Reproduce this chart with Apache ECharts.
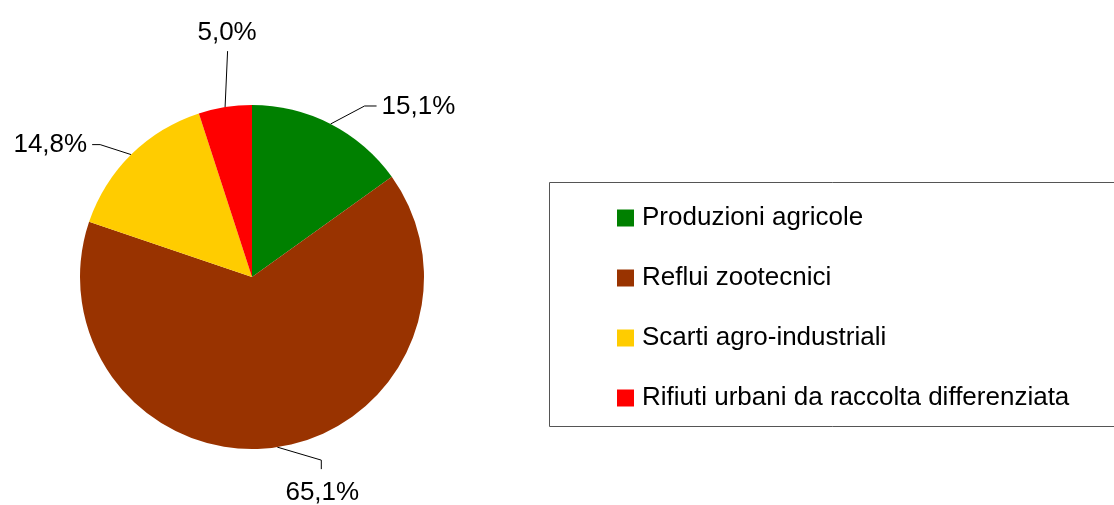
<!DOCTYPE html>
<html>
<head>
<meta charset="utf-8">
<script src="https://cdn.jsdelivr.net/npm/echarts@6/dist/echarts.min.js"></script>
<style>
  html, body { margin: 0; padding: 0; background: #ffffff; }
  #chart { width: 1114px; height: 505px; }
</style>
</head>
<body>
<div id="chart"></div>
<script>
// Biomass sources: share of total (%)
const categories = [
  'Produzioni agricole',
  'Reflui zootecnici',
  'Scarti agro-industriali',
  'Rifiuti urbani da raccolta differenziata'
];
const shares = [15.1, 65.1, 14.8, 5.0];
const colors = ['#008000', '#993300', '#ffcc00', '#ff0000'];

const FONT = '"Liberation Sans", Arial, sans-serif';
const FONT_SIZE = 26;
const CENTER = [252, 277];
const RADIUS = 172;

// Leader line shape for each slice, as offsets from the point where the line leaves the arc
const leaders = [
  { pts: [[34, -18], [46, -18]], label: [51, -17], align: 'left' },
  { pts: [[44, 13], [44, 22]], label: [45, 46], align: 'center' },
  { pts: [[-31, -10], [-39, -10]], label: [-44, -10], align: 'right' },
  { pts: [[2.5, -56]], label: [2, -74], align: 'center' }
];

function arcPoint(idx) {
  // fallback: mid-angle of the slice on the outer radius, clockwise from 12 o'clock
  const total = shares.reduce((a, b) => a + b, 0);
  let start = 0;
  for (let i = 0; i < idx; i++) start += shares[i];
  const mid = (start + shares[idx] / 2) / total * 2 * Math.PI;
  return [CENTER[0] + RADIUS * Math.sin(mid), CENTER[1] - RADIUS * Math.cos(mid)];
}

const chart = echarts.init(document.getElementById('chart'), null, { renderer: 'canvas' });

chart.setOption({
  backgroundColor: '#ffffff',
  animation: false,
  color: colors,
  textStyle: { fontFamily: FONT },
  graphic: [{
    type: 'rect',
    silent: true,
    shape: { x: 549.5, y: 182.5, width: 570, height: 244 },
    style: { fill: '#ffffff', stroke: '#555555', lineWidth: 1 },
    z: -1
  }],
  legend: {
    orient: 'vertical',
    left: 612,
    top: 200,
    itemWidth: 17,
    itemHeight: 17,
    itemGap: 34,
    icon: 'rect',
    selectedMode: false,
    textStyle: {
      fontFamily: FONT, fontSize: FONT_SIZE, color: '#000000',
      lineHeight: 26, padding: [0, 0, 0, 3]
    },
    data: categories
  },
  series: [{
    type: 'pie',
    center: CENTER,
    radius: RADIUS,
    startAngle: 90,
    clockwise: true,
    avoidLabelOverlap: false,
    itemStyle: { borderWidth: 0 },
    label: {
      show: true,
      position: 'outside',
      fontFamily: FONT,
      fontSize: FONT_SIZE,
      color: '#000000',
      formatter: p => p.value.toFixed(1).replace('.', ',') + '%'
    },
    labelLine: {
      show: true,
      length: 20,
      length2: 10,
      lineStyle: { color: '#000000', width: 1 }
    },
    labelLayout: function (params) {
      const i = params.dataIndex;
      const pts = params.labelLinePoints;
      const a = (pts && pts[0]) ? pts[0] : arcPoint(i);
      const L = leaders[i];
      const line = [[a[0], a[1]]].concat(L.pts.map(d => [a[0] + d[0], a[1] + d[1]]));
      return {
        x: a[0] + L.label[0],
        y: a[1] + L.label[1],
        align: L.align,
        verticalAlign: 'middle',
        labelLinePoints: line
      };
    },
    emphasis: { disabled: true },
    data: categories.map((name, i) => ({ name: name, value: shares[i] }))
  }]
});
</script>
</body>
</html>
